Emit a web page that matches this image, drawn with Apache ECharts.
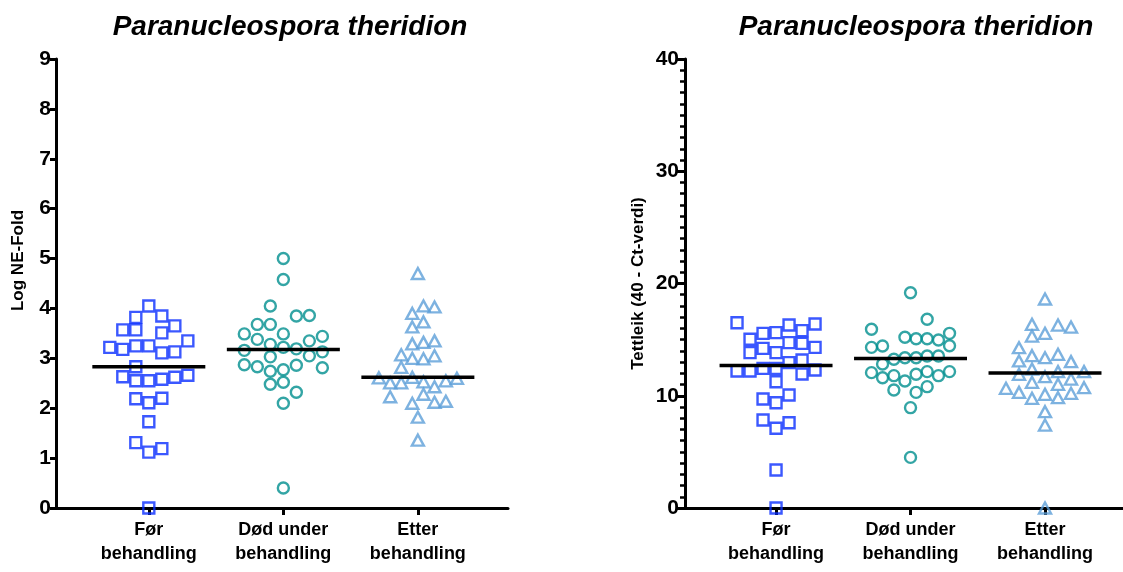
<!DOCTYPE html>
<html>
<head>
<meta charset="utf-8">
<script src="https://cdn.jsdelivr.net/npm/echarts@6/dist/echarts.min.js"></script>
<style>html,body{margin:0;padding:0;background:#fff}#main{width:1123px;height:572px}</style>
</head>
<body>
<div id="main"></div>
<script>
var cats = ['Før\nbehandling', 'Død under\nbehandling', 'Etter\nbehandling'];
var titleText = 'Paranucleospora theridion';

// Log NE-Fold (left chart)
var foerLog = [4.05,3.82,3.85,3.57,3.57,3.51,3.65,3.35,3.22,3.18,3.25,3.25,3.11,3.13,2.83,2.63,2.55,2.55,2.58,2.62,2.66,2.19,2.11,2.20,1.73,1.31,1.12,1.19,0];
var foerLogSlot = [0,-1,1,-2,-1,1,2,3,-3,-2,-1,0,1,2,-1,-2,-1,0,1,2,3,-1,0,1,0,-1,0,1,0];
var doedLog = [5.00,4.58,4.05,3.85,3.86,3.68,3.68,3.49,3.49,3.38,3.35,3.44,3.28,3.22,3.16,3.19,3.13,3.03,3.05,2.87,2.83,2.74,2.77,2.86,2.81,2.48,2.52,2.32,2.10,0.40];
var doedLogSlot = [0,0,-1,1,2,-2,-1,-3,0,-2,2,3,-1,0,-3,1,3,-1,2,-3,-2,-1,0,1,3,-1,0,1,0,0];
var etterLog = [4.70,4.05,4.03,3.90,3.63,3.73,3.29,3.32,3.35,3.07,3.00,2.99,3.05,2.82,2.61,2.51,2.51,2.62,2.53,2.43,2.55,2.60,2.23,2.28,2.10,2.12,2.14,1.82,1.36];
var etterLogSlot = [0,0.43,1.28,-0.43,-0.43,0.43,-0.43,0.43,1.28,-1.28,-0.43,0.43,1.28,-1.28,-3,-2.13,-1.28,-0.43,0.43,1.28,2.15,3,-2.13,0.43,-0.43,1.28,2.15,0,0];

// Tettleik (40 - Ct-verdi) (right chart)
var foerCt = [16.51,15.03,15.56,15.62,16.30,15.80,16.39,13.84,14.22,13.84,14.73,14.67,14.31,12.20,12.20,12.44,12.44,12.95,13.19,11.94,12.29,11.25,9.71,9.38,10.07,7.84,7.10,7.60,3.39,0];
var foerCtSlot = [-3,-2,-1,0,1,2,3,-2,-1,0,1,2,3,-3,-2,-1,0,1,2,2,3,0,-1,0,1,-1,0,1,0,0];
var doedCt = [19.18,16.81,15.92,15.21,15.08,15.08,14.97,15.56,14.31,14.43,14.46,12.83,13.25,13.39,13.39,13.54,13.54,12.06,11.61,11.79,11.31,11.91,12.15,11.79,12.15,10.51,10.30,10.81,8.94,4.51];
var doedCtSlot = [0,1.28,-3,-0.43,0.43,1.28,2.15,3,-3,-2.15,3,-2.15,-1.28,-0.43,0.43,1.28,2.15,-3,-2.15,-1.28,-0.43,0.43,1.28,2.15,3,-1.28,0.43,1.28,0,0];
var etterCt = [18.62,16.36,16.30,16.12,15.56,15.32,14.28,13.57,13.39,13.69,13.10,13.04,12.38,12.15,12.15,11.91,11.70,11.49,11.20,11.02,10.66,10.30,10.13,10.22,10.72,9.77,9.83,8.58,7.39,0];
var etterCtSlot = [0,-1,1,2,0,-1,-2,-1,0,1,-2,2,-1,1,3,-2,0,2,-1,1,-3,-2,0,2,3,-1,1,0,0,0];

var slotW = 0.0967;   // width of one swarm column, in category units
var halfLine = 0.42;  // half length of median bar
var colors = ['#0a2eff', '#008f8f', '#5d9fd8'];
var symbols = ['rect', 'circle', 'triangle'];

function median(arr) {
    var s = arr.slice().sort(function (a, b) { return a - b; });
    var n = s.length;
    return n % 2 ? s[(n - 1) / 2] : (s[n / 2 - 1] + s[n / 2]) / 2;
}

function swarm(vals, slots, c) {
    var out = [];
    for (var i = 0; i < vals.length; i++) {
        out.push([c + slots[i] * slotW, vals[i]]);
    }
    return out;
}

var groups = [
    [[foerLog, foerLogSlot], [doedLog, doedLogSlot], [etterLog, etterLogSlot]],
    [[foerCt, foerCtSlot], [doedCt, doedCtSlot], [etterCt, etterCtSlot]]
];

var series = [];
for (var g = 0; g < 2; g++) {
    for (var k = 0; k < 3; k++) {
        var vals = groups[g][k][0];
        var slots = groups[g][k][1];
        series.push({
            type: 'scatter',
            xAxisIndex: g, yAxisIndex: g,
            symbol: symbols[k],
            symbolSize: k == 2 ? [12, 11] : 11,
            clip: false,
            silent: true,
            itemStyle: { color: 'rgba(0,0,0,0)', borderColor: colors[k], borderWidth: 2.4 },
            data: swarm(vals, slots, k + 1),
            z: 3
        });
        var m = median(vals);
        series.push({
            type: 'line',
            xAxisIndex: g, yAxisIndex: g,
            symbol: 'none',
            silent: true,
            lineStyle: { color: '#000', width: 3.5 },
            data: [[k + 1 - halfLine, m], [k + 1 + halfLine, m]],
            z: 4
        });
    }
}

function xAxis(idx, min, max) {
    return {
        gridIndex: idx, type: 'value', min: min, max: max,
        axisLine: { show: true, onZero: false, lineStyle: { color: '#000', width: 3 } },
        axisTick: { show: true, customValues: [1, 2, 3], length: 7, lineStyle: { color: '#000', width: 3 } },
        axisLabel: {
            customValues: [1, 2, 3],
            formatter: function (v) { return cats[Math.round(v) - 1]; },
            fontSize: 18, fontWeight: 'bold', color: '#000', lineHeight: 24, margin: 10,
            fontFamily: 'Liberation Sans'
        },
        splitLine: { show: false }
    };
}

var nameStyle = { fontSize: 17, fontWeight: 'bold', color: '#000', fontFamily: 'Liberation Sans' };

var option = {
    backgroundColor: '#fff',
    animation: false,
    title: [
        { text: titleText, left: 285, top: 8, textAlign: 'center',
          textStyle: { fontSize: 28, fontWeight: 'bold', fontStyle: 'italic', color: '#000', fontFamily: 'Liberation Sans' } },
        { text: titleText, left: 911, top: 8, textAlign: 'center',
          textStyle: { fontSize: 28, fontWeight: 'bold', fontStyle: 'italic', color: '#000', fontFamily: 'Liberation Sans' } }
    ],
    grid: [
        { left: 56, width: 452, top: 59, bottom: 64 },
        { left: 685, right: 0, top: 59, bottom: 64 }
    ],
    xAxis: [xAxis(0, 0.31, 3.67), xAxis(1, 0.323, 3.58)],
    yAxis: [
        {
            gridIndex: 0, type: 'value', min: 0, max: 9, interval: 1,
            name: 'Log NE-Fold', nameLocation: 'middle', nameGap: 29,
            nameTextStyle: Object.assign({ padding: [0, 0, 0, 46] }, nameStyle),
            axisLine: { show: true, lineStyle: { color: '#000', width: 3 } },
            axisTick: { show: true, length: 6, lineStyle: { color: '#000', width: 3 } },
            axisLabel: { fontSize: 21, fontWeight: 'bold', color: '#000', margin: 5, fontFamily: 'Liberation Sans' },
            splitLine: { show: false }
        },
        {
            gridIndex: 1, type: 'value', min: 0, max: 40, interval: 10,
            name: 'Tettleik (40 - Ct-verdi)', nameLocation: 'middle', nameGap: 38, nameTextStyle: nameStyle,
            axisLine: { show: true, lineStyle: { color: '#000', width: 3 } },
            axisTick: { show: true, length: 8, lineStyle: { color: '#000', width: 3 } },
            minorTick: { show: true, splitNumber: 10, length: 5, lineStyle: { color: '#000', width: 2.5 } },
            axisLabel: { fontSize: 21, fontWeight: 'bold', color: '#000', margin: 6, fontFamily: 'Liberation Sans' },
            splitLine: { show: false }
        }
    ],
    series: series
};

var chart = echarts.init(document.getElementById('main'));
chart.setOption(option);
</script>
</body>
</html>
